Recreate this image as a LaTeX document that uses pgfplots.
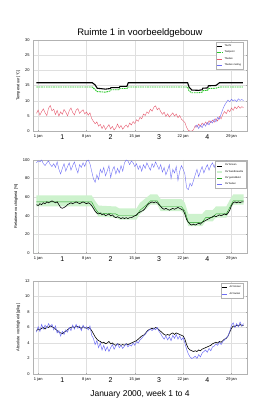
\documentclass[border=0pt]{standalone}
\usepackage{fontspec}
\setmainfont{Liberation Sans}
\usepackage{pgfplots}
\usepackage{pgfplotstable}
\pgfplotsset{compat=1.18}

\pgfplotstableread{
d tr rvb rvo avb avo
0.50 5.8 52 97 5.6 5.4
0.75 6.9 51 99 5.8 6.1
1.00 5.2 53 98 5.7 5.5
1.25 6.4 52 100 5.9 6.4
1.50 7.3 54 96 6.0 5.8
1.75 6.0 53 94 5.8 6.3
2.00 5.1 55 97 6.1 5.9
2.25 7.5 54 99 6.0 6.5
2.50 8.4 55 95 6.2 6.1
2.75 6.6 56 93 6.1 6.4
3.00 7.2 55 96 6.0 5.7
3.25 5.4 54 92 5.8 6.2
3.50 6.8 55 98 5.6 5.3
3.75 4.9 52 90 5.4 5.6
4.00 6.3 49 85 5.3 4.9
4.25 5.5 48 91 5.2 5.5
4.50 7.1 49 96 5.4 5.1
4.75 6.2 50 88 5.5 5.7
5.00 5.0 52 93 5.7 5.4
5.25 6.7 53 97 5.9 6.0
5.50 7.6 54 89 6.0 5.6
5.75 6.1 53 94 6.1 6.3
6.00 5.3 54 98 6.0 5.8
6.25 6.9 55 91 6.2 6.4
6.50 7.4 54 86 6.1 5.9
6.75 5.8 53 95 6.0 6.2
7.00 6.5 54 92 5.9 5.6
7.25 7.0 55 97 6.1 6.3
7.50 5.6 54 93 6.0 5.9
7.75 6.3 53 99 5.9 6.1
8.00 5.2 54 100 6.0 5.7
8.25 6.0 53 96 5.9 6.2
8.50 4.1 51 88 5.6 5.0
8.75 3.2 48 80 5.2 4.6
9.00 2.4 45 76 4.8 3.8
9.25 3.0 43 84 4.5 4.3
9.50 1.6 42 79 4.3 3.4
9.75 2.2 43 90 4.2 4.0
10.00 0.8 41 86 4.0 3.1
10.25 1.9 42 92 4.1 3.7
10.50 0.5 40 83 3.9 3.0
10.75 1.3 41 88 4.0 3.5
11.00 2.1 42 94 4.2 2.9
11.25 0.7 40 81 3.9 3.4
11.50 1.5 41 89 4.0 3.8
11.75 0.3 39 93 3.8 3.2
12.00 1.1 38 85 3.7 3.6
12.25 2.3 39 91 3.9 3.9
12.50 1.0 38 86 3.8 3.4
12.75 1.8 37 94 3.7 3.7
13.00 0.6 38 88 3.8 3.3
13.25 1.4 37 97 3.7 3.6
13.50 2.0 38 100 3.9 3.9
13.75 1.2 37 99 3.8 3.5
14.00 2.6 38 95 3.9 3.8
14.25 2.0 38 99 4.0 3.6
14.50 3.1 39 97 4.1 4.0
14.75 2.5 40 93 4.2 3.7
15.00 3.7 41 96 4.3 4.2
15.25 3.2 43 90 4.5 4.0
15.50 4.5 44 94 4.7 4.4
15.75 4.0 45 88 4.9 4.6
16.00 5.6 46 95 5.0 4.9
16.25 5.1 48 91 5.2 5.1
16.50 6.3 51 97 5.5 5.4
16.75 5.8 53 93 5.7 5.6
17.00 7.2 54 89 5.8 5.8
17.25 6.5 55 96 5.9 5.6
17.50 7.8 54 92 5.8 5.9
17.75 8.3 55 98 6.0 5.7
18.00 7.0 54 94 5.9 6.0
18.25 7.6 52 90 5.7 5.5
18.50 6.4 50 95 5.5 5.2
18.75 5.5 48 87 5.3 4.8
19.00 6.2 47 92 5.1 4.5
19.25 4.8 48 84 5.0 4.9
19.50 5.7 47 89 5.1 4.4
19.75 4.6 46 95 5.0 4.8
20.00 5.3 47 80 5.2 4.3
20.25 6.0 48 90 5.3 5.0
20.50 4.9 47 86 5.1 4.6
20.75 5.6 48 93 5.3 5.1
21.00 4.4 49 78 5.2 4.5
21.25 5.1 48 88 5.1 4.9
21.50 3.9 47 94 5.0 4.4
21.75 3.4 46 90 4.9 4.7
22.00 2.8 42 85 4.5 4.0
22.25 1.2 36 70 3.8 3.2
22.50 0.2 33 68 3.3 2.6
22.75 0.0 31 75 3.1 2.2
23.00 0.0 30 72 3.0 2.0
23.25 0.4 31 78 2.9 2.1
23.50 1.8 30 84 3.0 2.3
23.75 1.2 31 90 2.9 2.0
24.00 2.3 32 82 3.1 2.5
24.25 1.5 31 88 3.0 2.2
24.50 2.6 33 93 3.2 2.7
24.75 1.9 34 86 3.3 2.9
25.00 3.0 35 91 3.4 3.1
25.25 2.2 36 95 3.5 2.8
25.50 3.4 37 89 3.6 3.3
25.75 2.7 38 94 3.7 3.0
26.00 3.6 39 97 3.9 3.5
26.25 2.9 40 92 4.0 3.6
26.50 4.1 39 98 4.1 3.9
26.75 3.3 40 95 4.0 3.7
27.00 4.8 41 97 4.2 4.1
27.25 4.0 40 93 4.1 3.8
27.50 5.5 41 98 4.3 4.2
27.75 6.4 42 95 4.5 4.4
28.00 5.7 41 99 4.6 4.7
28.25 7.0 43 94 4.9 4.9
28.50 6.3 46 90 5.4 5.5
28.75 7.6 51 85 5.9 6.3
29.00 6.8 54 82 6.2 6.6
29.25 8.0 55 87 6.1 6.0
29.50 7.3 54 80 6.3 6.5
29.75 8.2 55 86 6.2 6.1
30.00 7.5 54 83 6.4 6.7
30.25 8.0 55 88 6.2 6.2
30.50 7.7 55 85 6.3 6.5
}\noisy

\pgfplotstableread{
d tb
23.50 1.2
23.75 2.0
24.00 0.8
24.25 1.9
24.50 1.1
24.75 2.4
25.00 1.6
25.25 2.8
25.50 2.0
25.75 3.3
26.00 2.6
26.25 3.9
26.50 3.0
26.75 4.5
27.00 3.9
27.25 5.6
27.50 7.2
27.75 8.5
28.00 9.4
28.25 10.2
28.50 9.6
28.75 10.5
29.00 9.9
29.25 10.3
29.50 9.7
29.75 10.6
30.00 10.1
30.25 10.4
30.50 10.0
}\tbuit

\pgfplotstableread{
d tair tset
0.5 15.9 14.5
8.6 15.9 14.5
9.0 15.2 13.6
9.3 14.1 13.0
10.5 13.8 12.8
11.2 14.0 13.2
11.3 14.3 13.6
12.5 14.3 13.6
12.6 14.7 14.0
13.6 14.7 14.0
13.8 15.9 14.5
22.4 15.9 14.5
22.6 14.5 13.2
23.0 13.5 12.6
24.0 13.4 12.6
24.5 13.6 12.8
24.6 14.1 13.3
25.3 14.2 13.4
25.4 14.9 14.0
26.5 15.0 14.1
27.0 15.9 14.5
30.4 15.9 14.5
}\tin

\pgfplotstableread{
d gl
0.5 55
8.5 55
9.0 48
9.5 43
12.0 42
12.5 40
15.0 40
15.5 46
16.5 52
17.0 56
18.0 56
18.5 50
21.5 50
22.0 45
22.5 33
24.5 33
25.0 38
26.0 38
26.5 42
28.0 42
28.5 49
29.0 56
30.5 56
}\band

\definecolor{myred}{RGB}{230,90,110}
\definecolor{myblue}{RGB}{110,110,245}
\definecolor{mygreen}{RGB}{40,200,40}
\definecolor{lightgreen}{RGB}{205,242,205}

\pgfplotsset{
  myax/.style={
    scale only axis, width=214bp, xmin=0, xmax=31,
    xtick={0.75,7.75,14.75,21.75,28.75},
    xticklabels={1 jan,8 jan,15 jan,22 jan,29 jan},
    grid=major, major grid style={gray!25, line width=0.3pt},
    tick label style={font=\fontsize{4}{5}\selectfont},
    /pgf/number format/assume math mode=true,
    axis line style={gray!60, line width=0.4pt},
    tick style={gray!70, line width=0.3pt}, tick align=inside,
    major tick length=1.5pt,
    ylabel style={font=\fontsize{4}{5}\selectfont, yshift=-2pt},
    extra x ticks={4.25,11.25,18.25,25.25},
    extra x tick labels={1,2,3,4},
    extra x tick style={grid=none, major tick length=0pt,
      tick label style={font=\fontsize{7}{8}\selectfont}},
    legend style={font=\fontsize{2.5}{3}\selectfont, draw=gray!60,
      inner sep=0.6pt, row sep=-1.2pt, anchor=north east,
      at={(0.985,0.975)}, cells={anchor=west}},
    legend image code/.code={\draw[##1] (0bp,0bp) -- (5bp,0bp);},
  }
}

\begin{document}
\begin{tikzpicture}[x=1bp,y=1bp]
\useasboundingbox (0,0) rectangle (255,403);
\node[font=\fontsize{9.5}{11}\selectfont] at (140,370) {Ruimte 1 in voorbeeldgebouw};

% Top: temperature
\begin{axis}[myax, at={(33bp,272bp)}, anchor=south west, height=91bp,
  ymin=0, ymax=30, ytick={0,5,...,30},
  ylabel={Temperatuur [\textdegree C]}]
\addplot[black, line width=1.1pt] table[x=d,y=tair] {\tin};
\addlegendentry{Tlucht}
\addplot[mygreen, line width=0.9pt, dash pattern=on 1.6pt off 0.8pt] table[x=d,y=tset] {\tin};
\addlegendentry{Tsetpoint}
\addplot[myred, line width=0.4pt] table[x=d,y=tr] {\noisy};
\addlegendentry{Tbuiten}
\addplot[myblue, line width=0.4pt] table[x=d,y=tb] {\tbuit};
\addlegendentry{Tbuiten meting}
\end{axis}

% Middle: relative humidity
\begin{axis}[myax, at={(33bp,150bp)}, anchor=south west, height=93bp,
  ymin=0, ymax=100, ytick={0,20,...,100},
  ylabel={Relatieve vochtigheid [\%]},
  legend style={at={(0.995,0.985)}}]
\addplot[fill=lightgreen, draw=none, forget plot] coordinates {
(0.5,62) (8.5,62) (9.0,56) (9.5,51) (12.0,50) (12.5,48) (15.0,48) (15.5,54)
(16.5,60) (17.0,63) (18.0,63) (18.5,58) (21.5,58) (22.0,54) (22.5,42) (24.5,42)
(25.0,46) (26.0,46) (26.5,50) (28.0,50) (28.5,57) (29.0,63) (30.5,63)
(30.5,52) (29.0,52) (28.5,45) (28.0,38) (26.5,38) (26.0,34) (25.0,34) (24.5,29)
(22.5,29) (22.0,40) (21.5,45) (18.5,45) (18.0,52) (17.0,52) (16.5,48) (15.5,42)
(15.0,36) (12.5,36) (12.0,38) (9.5,39) (9.0,44) (8.5,50) (0.5,50)} \closedcycle;
\addplot[mygreen!80!black, line width=0.4pt, forget plot] table[x=d,y=gl] {\band};
\addplot[black, line width=0.6pt, forget plot] table[x=d,y=rvb] {\noisy};
\addplot[myblue, line width=0.4pt, forget plot] table[x=d,y=rvo] {\noisy};
\addlegendimage{black, line width=0.6pt}
\addlegendentry{RV binnen}
\addlegendimage{lightgreen, line width=2pt}
\addlegendentry{RV bandbreedte}
\addlegendimage{mygreen!80!black, line width=0.4pt}
\addlegendentry{RV gemiddeld}
\addlegendimage{myblue, line width=0.4pt}
\addlegendentry{RV buiten}
\end{axis}

% Bottom: absolute humidity
\begin{axis}[myax, at={(33bp,29bp)}, anchor=south west, height=93bp,
  ymin=0, ymax=12, ytick={0,2,...,12},
  ylabel={Absolute vochtigheid [g/kg]}]
\addplot[black, line width=0.6pt] table[x=d,y=avb] {\noisy};
\addlegendentry{AV binnen}
\addplot[myblue, line width=0.5pt] table[x=d,y=avo] {\noisy};
\addlegendentry{AV buiten}
\end{axis}

\node[font=\fontsize{8.5}{10}\selectfont] at (140,9) {January 2000, week 1 to 4};
\end{tikzpicture}
\end{document}
